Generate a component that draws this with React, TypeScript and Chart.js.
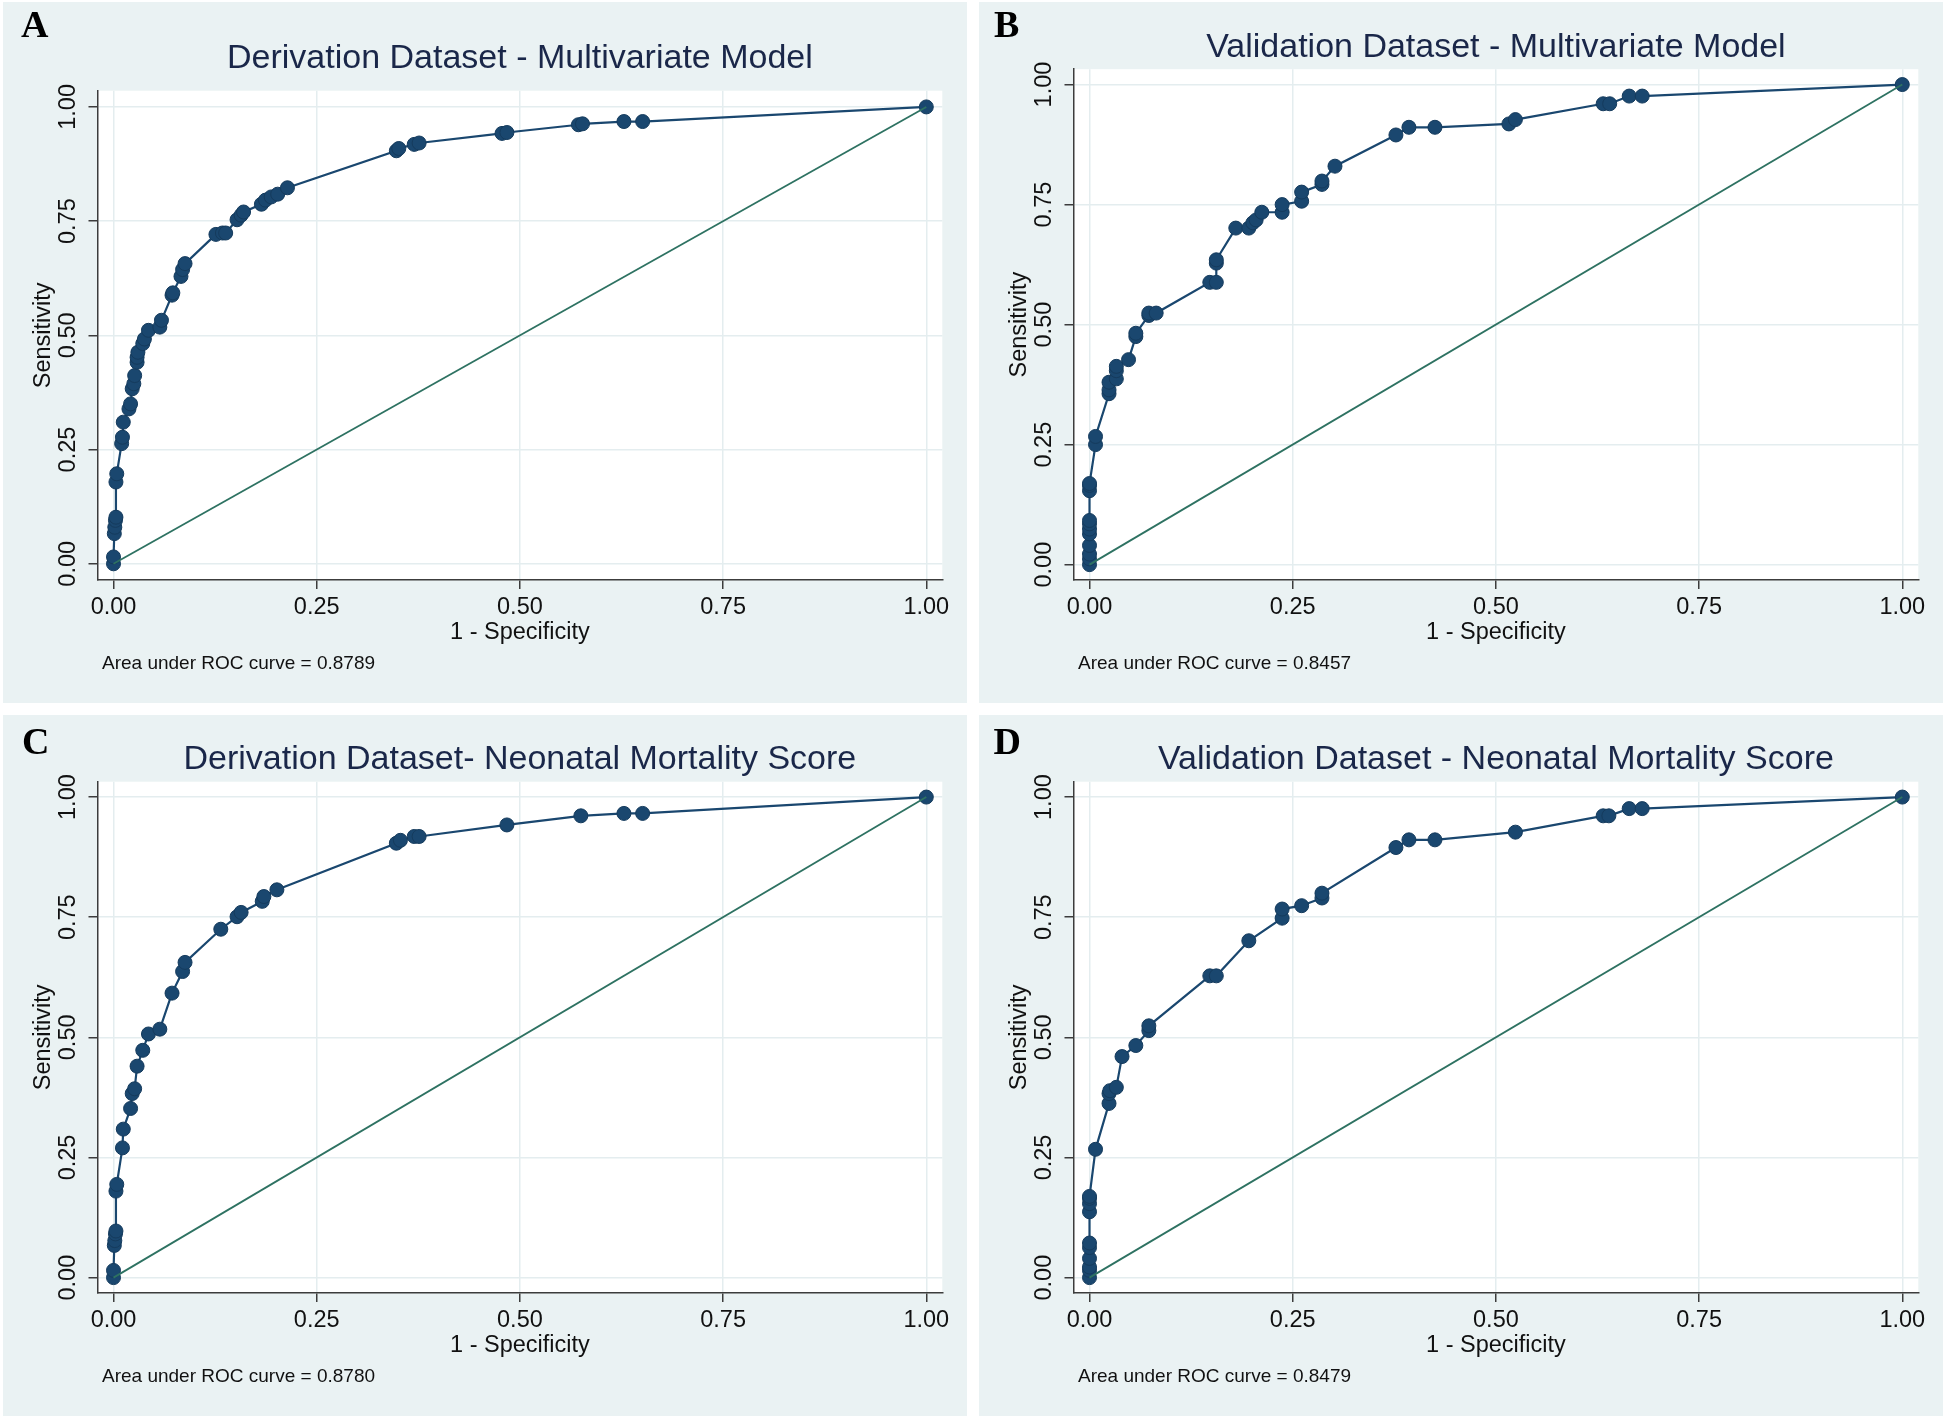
import React, { useEffect, useRef } from 'react';
import { Chart, registerables } from 'chart.js';

Chart.register(...registerables);

// ---------- data ----------
const tickValues = [0, 0.25, 0.5, 0.75, 1];
const refLineX = [0, 1];
const refLineY = [0, 1];

const derivModelFpr = [0, 0, 0.001, 0.0016, 0.0024, 0.003, 0.003, 0.004, 0.010, 0.011, 0.012, 0.019, 0.021, 0.023, 0.025, 0.026, 0.029, 0.029, 0.030, 0.036, 0.038, 0.043, 0.057, 0.059, 0.072, 0.073, 0.083, 0.085, 0.088, 0.126, 0.134, 0.138, 0.152, 0.157, 0.160, 0.182, 0.187, 0.194, 0.202, 0.214, 0.348, 0.351, 0.370, 0.376, 0.478, 0.484, 0.572, 0.577, 0.628, 0.651, 1];
const derivModelTpr = [0, 0.015, 0.066, 0.080, 0.095, 0.102, 0.179, 0.197, 0.263, 0.277, 0.310, 0.339, 0.350, 0.383, 0.394, 0.412, 0.441, 0.452, 0.463, 0.482, 0.492, 0.511, 0.518, 0.533, 0.588, 0.593, 0.629, 0.644, 0.657, 0.721, 0.724, 0.724, 0.753, 0.763, 0.770, 0.787, 0.796, 0.803, 0.809, 0.823, 0.904, 0.909, 0.918, 0.921, 0.942, 0.944, 0.961, 0.963, 0.968, 0.968, 1];

const validModelFpr = [0, 0, 0, 0, 0, 0, 0, 0, 0, 0, 0, 0.0074, 0.0074, 0.024, 0.024, 0.024, 0.033, 0.033, 0.033, 0.048, 0.057, 0.057, 0.073, 0.073, 0.082, 0.148, 0.156, 0.156, 0.156, 0.180, 0.196, 0.201, 0.205, 0.212, 0.237, 0.237, 0.261, 0.261, 0.286, 0.286, 0.302, 0.377, 0.393, 0.425, 0.516, 0.524, 0.632, 0.640, 0.664, 0.680, 1];
const validModelTpr = [0, 0.012, 0.022, 0.040, 0.064, 0.074, 0.085, 0.092, 0.154, 0.165, 0.169, 0.250, 0.267, 0.356, 0.364, 0.380, 0.387, 0.404, 0.413, 0.427, 0.475, 0.482, 0.519, 0.524, 0.524, 0.588, 0.588, 0.628, 0.635, 0.701, 0.701, 0.712, 0.718, 0.734, 0.734, 0.750, 0.757, 0.776, 0.792, 0.799, 0.830, 0.895, 0.911, 0.911, 0.918, 0.927, 0.960, 0.960, 0.976, 0.976, 1];

const derivScoreFpr = [0, 0, 0.001, 0.0016, 0.0024, 0.003, 0.003, 0.004, 0.011, 0.012, 0.021, 0.023, 0.026, 0.029, 0.036, 0.043, 0.057, 0.072, 0.085, 0.088, 0.132, 0.152, 0.157, 0.183, 0.185, 0.201, 0.348, 0.353, 0.370, 0.376, 0.484, 0.575, 0.628, 0.651, 1];
const derivScoreTpr = [0, 0.015, 0.067, 0.077, 0.091, 0.097, 0.180, 0.194, 0.270, 0.309, 0.352, 0.383, 0.393, 0.440, 0.473, 0.507, 0.517, 0.592, 0.637, 0.656, 0.725, 0.751, 0.760, 0.783, 0.793, 0.807, 0.904, 0.910, 0.918, 0.918, 0.942, 0.961, 0.966, 0.966, 1];

const validScoreFpr = [0, 0, 0, 0, 0, 0, 0, 0, 0, 0, 0.0074, 0.024, 0.024, 0.025, 0.033, 0.040, 0.057, 0.073, 0.073, 0.148, 0.156, 0.196, 0.237, 0.237, 0.261, 0.286, 0.286, 0.377, 0.393, 0.425, 0.524, 0.632, 0.639, 0.664, 0.680, 1];
const validScoreTpr = [0, 0.015, 0.022, 0.040, 0.0625, 0.072, 0.137, 0.154, 0.165, 0.169, 0.267, 0.3625, 0.383, 0.389, 0.396, 0.460, 0.483, 0.514, 0.524, 0.628, 0.628, 0.701, 0.748, 0.767, 0.774, 0.790, 0.800, 0.895, 0.911, 0.911, 0.927, 0.961, 0.961, 0.976, 0.976, 1];

const panelLetters = ['A', 'B', 'C', 'D'];
const panelTitles = [
  'Derivation Dataset - Multivariate Model',
  'Validation Dataset - Multivariate Model',
  'Derivation Dataset- Neonatal Mortality Score',
  'Validation Dataset - Neonatal Mortality Score',
];
const aucLabels = [
  'Area under ROC curve = 0.8789',
  'Area under ROC curve = 0.8457',
  'Area under ROC curve = 0.8780',
  'Area under ROC curve = 0.8479',
];
const xAxisTitle = '1 - Specificity';
const yAxisTitle = 'Sensitivity';

// ---------- styles ----------
const NAVY = '#1A476F';
const NAVY_EDGE = '#153B5D';
const GREEN = '#2E7262';
const GRID = '#E4EDEF';
const AXIS = '#3C3C3C';
const PANEL_BG = '#EAF2F3';
const TITLE_COLOR = '#1A2749';
const SANS = '"Liberation Sans", Arial, Helvetica, sans-serif';
const SERIF = '"Liberation Serif", "Times New Roman", serif';

const PANEL_W = 964;
const PANEL_H = 701;

type PanelProps = {
  idx: number;
  fpr: number[];
  tpr: number[];
  left: number;
  top: number;
  chartTop: number;
  yMargin: number;
  titleBaseline: number;
  letterX: number;
  letterBaseline: number;
};

function RocPanel(p: PanelProps) {
  const ref = useRef<HTMLCanvasElement | null>(null);

  useEffect(() => {
    const canvas = ref.current;
    if (!canvas) return;
    const chartLeft = 94.5;
    const chartRight = 939.3;
    const chartBottom = 578;
    const xAxisH = 70;

    const decorPlugin = {
      id: 'decor',
      beforeDraw(chart: any) {
        const { ctx, chartArea } = chart;
        ctx.save();
        ctx.fillStyle = PANEL_BG;
        ctx.fillRect(0, 0, chart.width, chart.height);
        ctx.fillStyle = '#FFFFFF';
        ctx.fillRect(chartArea.left, chartArea.top, chartArea.right - chartArea.left, chartArea.bottom - chartArea.top);
        ctx.restore();
      },
      afterDraw(chart: any) {
        const { ctx, chartArea } = chart;
        ctx.save();
        // panel letter
        ctx.fillStyle = '#000000';
        ctx.font = `bold 38px ${SERIF}`;
        ctx.textAlign = 'left';
        ctx.textBaseline = 'alphabetic';
        ctx.fillText(panelLetters[p.idx], p.letterX, p.letterBaseline);
        // title
        ctx.fillStyle = TITLE_COLOR;
        ctx.font = `34px ${SANS}`;
        ctx.textAlign = 'center';
        ctx.fillText(panelTitles[p.idx], (chartArea.left + chartArea.right) / 2, p.titleBaseline);
        // AUC note
        ctx.fillStyle = '#111111';
        ctx.font = `19px ${SANS}`;
        ctx.textAlign = 'left';
        ctx.textBaseline = 'middle';
        ctx.fillText(aucLabels[p.idx], chartArea.left + 4.5, chartArea.bottom + 84);
        ctx.restore();
      },
    };

    const fixTicks = (scale: any) => {
      scale.ticks = tickValues.map((v) => ({ value: v }));
    };

    const chart = new Chart(canvas, {
      type: 'scatter',
      data: {
        datasets: [
          {
            data: refLineX.map((x, i) => ({ x, y: refLineY[i] })),
            showLine: true,
            borderColor: GREEN,
            borderWidth: 1.8,
            pointRadius: 0,
            fill: false,
          },
          {
            data: p.fpr.map((x, i) => ({ x, y: p.tpr[i] })),
            showLine: true,
            borderColor: NAVY,
            borderWidth: 2.2,
            pointRadius: 7,
            pointBackgroundColor: NAVY,
            pointBorderColor: NAVY_EDGE,
            pointBorderWidth: 1,
            fill: false,
            tension: 0,
          },
        ],
      },
      options: {
        animation: false,
        responsive: false,
        events: [],
        layout: {
          padding: {
            left: 0,
            top: p.chartTop,
            right: PANEL_W - chartRight,
            bottom: PANEL_H - chartBottom - xAxisH,
          },
        },
        plugins: {
          legend: { display: false },
          tooltip: { enabled: false },
          title: { display: false },
        },
        scales: {
          x: {
            type: 'linear',
            min: -0.0197,
            max: 1.0197,
            afterBuildTicks: fixTicks,
            afterFit: (s: any) => {
              s.height = xAxisH;
            },
            ticks: {
              autoSkip: false,
              maxRotation: 0,
              callback: (v: any) => Number(v).toFixed(2),
              font: { family: SANS, size: 23.5 },
              color: '#111111',
              padding: 4,
            },
            grid: {
              color: GRID,
              lineWidth: 1.5,
              tickColor: AXIS,
              tickLength: 9,
              tickWidth: 1.5,
            },
            border: { display: true, color: AXIS, width: 1.5 },
            title: {
              display: true,
              text: xAxisTitle,
              font: { family: SANS, size: 23.5 },
              color: '#111111',
              padding: { top: 0, bottom: 3 },
            },
          },
          y: {
            type: 'linear',
            min: -p.yMargin,
            max: 1 + p.yMargin,
            afterBuildTicks: fixTicks,
            afterFit: (s: any) => {
              s.width = chartLeft;
            },
            ticks: {
              autoSkip: false,
              minRotation: 90,
              maxRotation: 90,
              crossAlign: 'center',
              callback: (v: any) => Number(v).toFixed(2),
              font: { family: SANS, size: 23.5 },
              color: '#111111',
              padding: -2.9,
            },
            grid: {
              color: GRID,
              lineWidth: 1.5,
              tickColor: AXIS,
              tickLength: 9,
              tickWidth: 1.5,
            },
            border: { display: true, color: AXIS, width: 1.5 },
            title: {
              display: true,
              text: yAxisTitle,
              font: { family: SANS, size: 23.5 },
              color: '#111111',
              padding: { top: 26.2, bottom: 0 },
            },
          },
        },
      } as any,
      plugins: [decorPlugin],
    });

    return () => chart.destroy();
  }, []);

  return (
    <div
      style={{
        position: 'absolute',
        left: p.left,
        top: p.top,
        width: PANEL_W,
        height: PANEL_H,
        background: PANEL_BG,
      }}
    >
      <canvas ref={ref} width={PANEL_W} height={PANEL_H} style={{ display: 'block', width: PANEL_W, height: PANEL_H }} />
    </div>
  );
}

export default function App() {
  return (
    <div style={{ position: 'absolute', left: 0, top: 0, width: 1946, height: 1418, background: '#FFFFFF' }}>
      <RocPanel idx={0} fpr={derivModelFpr} tpr={derivModelTpr} left={3} top={2} chartTop={88.7} yMargin={0.0355} titleBaseline={66} letterX={18} letterBaseline={35} />
      <RocPanel idx={1} fpr={validModelFpr} tpr={validModelTpr} left={979} top={2} chartTop={67.2} yMargin={0.032} titleBaseline={55.4} letterX={15} letterBaseline={35} />
      <RocPanel idx={2} fpr={derivScoreFpr} tpr={derivScoreTpr} left={3} top={715} chartTop={66.7} yMargin={0.032} titleBaseline={54.2} letterX={19} letterBaseline={39} />
      <RocPanel idx={3} fpr={validScoreFpr} tpr={validScoreTpr} left={979} top={715} chartTop={66.7} yMargin={0.032} titleBaseline={54.2} letterX={14.5} letterBaseline={39} />
    </div>
  );
}
